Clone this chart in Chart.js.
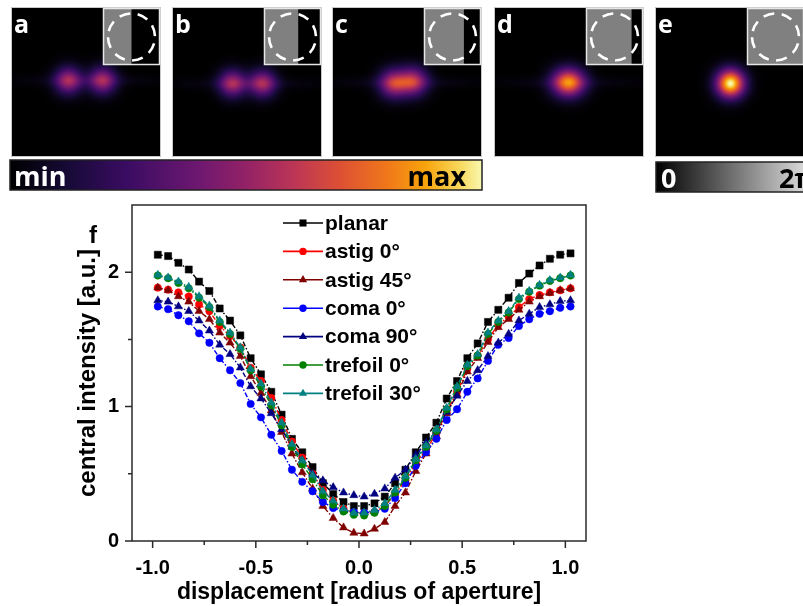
<!DOCTYPE html>
<html>
<head>
<meta charset="utf-8">
<script src="https://cdn.jsdelivr.net/npm/chart.js@4.4.1/dist/chart.umd.min.js"></script>
<style>
  html, body { margin: 0; padding: 0; background: #fff; }
  #wrap { position: relative; width: 803px; height: 606px; overflow: hidden; }
  #chart, #panels { position: absolute; left: 0; top: 0; }
</style>
</head>
<body>
<div id="wrap">
  <canvas id="chart" width="803" height="606"></canvas>
  <canvas id="panels" width="803" height="200"></canvas>
</div>
<script>
// displacement positions (radius of aperture)
const xPos = [-0.975, -0.925, -0.875, -0.825, -0.775, -0.725, -0.675, -0.625, -0.575, -0.525,
  -0.475, -0.425, -0.375, -0.325, -0.275, -0.225, -0.175, -0.125, -0.075, -0.025,
  0.025, 0.075, 0.125, 0.175, 0.225, 0.275, 0.325, 0.375, 0.425, 0.475,
  0.525, 0.575, 0.625, 0.675, 0.725, 0.775, 0.825, 0.875, 0.925, 0.975, 1.025];

const planar = [2.13, 2.12, 2.07, 2.02, 1.93, 1.86, 1.73, 1.64, 1.53, 1.36,
  1.24, 1.11, 0.94, 0.76, 0.66, 0.55, 0.43, 0.35, 0.29, 0.26,
  0.26, 0.28, 0.33, 0.43, 0.53, 0.66, 0.77, 0.88, 1.06, 1.19,
  1.36, 1.47, 1.63, 1.72, 1.81, 1.92, 1.99, 2.05, 2.10, 2.13, 2.14];
const astig0 = [1.885, 1.87, 1.85, 1.82, 1.76, 1.71, 1.60, 1.525, 1.44, 1.29,
  1.19, 1.065, 0.90, 0.74, 0.62, 0.50, 0.38, 0.30, 0.24, 0.21,
  0.20, 0.215, 0.26, 0.35, 0.45, 0.58, 0.68, 0.80, 0.96, 1.11,
  1.28, 1.38, 1.50, 1.61, 1.67, 1.74, 1.80, 1.83, 1.85, 1.865, 1.88];
const astig45 = [1.885, 1.865, 1.82, 1.78, 1.71, 1.65, 1.55, 1.475, 1.375, 1.225,
  1.10, 0.97, 0.81, 0.65, 0.51, 0.39, 0.26, 0.17, 0.10, 0.06,
  0.055, 0.09, 0.14, 0.26, 0.36, 0.52, 0.65, 0.78, 0.95, 1.09,
  1.26, 1.36, 1.48, 1.59, 1.65, 1.72, 1.78, 1.82, 1.845, 1.865, 1.88];
const coma0 = [1.745, 1.725, 1.68, 1.635, 1.545, 1.475, 1.36, 1.27, 1.175, 1.02,
  0.92, 0.79, 0.67, 0.53, 0.44, 0.37, 0.29, 0.245, 0.225, 0.215,
  0.21, 0.215, 0.24, 0.32, 0.43, 0.56, 0.66, 0.76, 0.90, 0.98,
  1.11, 1.21, 1.34, 1.46, 1.51, 1.60, 1.65, 1.69, 1.71, 1.735, 1.745];
const coma90 = [1.79, 1.78, 1.745, 1.71, 1.64, 1.565, 1.46, 1.39, 1.29, 1.15,
  1.06, 0.95, 0.83, 0.70, 0.60, 0.50, 0.45, 0.40, 0.36, 0.34,
  0.33, 0.35, 0.39, 0.47, 0.53, 0.64, 0.73, 0.82, 0.96, 1.08,
  1.19, 1.27, 1.375, 1.475, 1.54, 1.64, 1.69, 1.74, 1.76, 1.785, 1.79];
const trefoil0 = [1.975, 1.955, 1.92, 1.88, 1.81, 1.74, 1.63, 1.54, 1.43, 1.27,
  1.15, 1.01, 0.86, 0.70, 0.57, 0.46, 0.34, 0.27, 0.22, 0.195,
  0.19, 0.21, 0.26, 0.36, 0.47, 0.60, 0.70, 0.82, 0.98, 1.14,
  1.30, 1.38, 1.54, 1.63, 1.70, 1.80, 1.855, 1.90, 1.935, 1.955, 1.975];
const trefoil30 = [1.98, 1.96, 1.93, 1.89, 1.82, 1.75, 1.64, 1.55, 1.44, 1.28,
  1.17, 1.03, 0.88, 0.72, 0.60, 0.49, 0.37, 0.30, 0.24, 0.21,
  0.21, 0.23, 0.28, 0.38, 0.48, 0.61, 0.71, 0.83, 0.99, 1.15,
  1.31, 1.39, 1.55, 1.64, 1.71, 1.81, 1.86, 1.905, 1.94, 1.96, 1.98];

const seriesNames = ['planar', 'astig 0°', 'astig 45°', 'coma 0°', 'coma 90°', 'trefoil 0°', 'trefoil 30°'];
const seriesValues = [planar, astig0, astig45, coma0, coma90, trefoil0, trefoil30];
const seriesColors = ['#000000', '#ff0000', '#800000', '#0000ff', '#000080', '#008000', '#008080'];
const seriesMarkers = ['rect', 'circle', 'triangle', 'circle', 'triangle', 'circle', 'triangle'];

const xTickValues = [-1, -0.5, 0, 0.5, 1];
const xMinorTicks = [-0.75, -0.25, 0.25, 0.75];
const yTickValues = [0, 1, 2];
const yMinorTicks = [0.5, 1.5];

const markerRadius = { rect: 5, circle: 3.7, triangle: 4.7 };
const axisFont = { family: '"Liberation Sans", Arial, sans-serif', weight: 'bold', size: 20 };
const titleFont = { family: '"Liberation Sans", Arial, sans-serif', weight: 'bold', size: 23 };

function drawMarker(ctx, style, x, y, r, color) {
  ctx.fillStyle = color;
  ctx.beginPath();
  if (style === 'rect') {
    const s = r * Math.SQRT1_2;
    ctx.rect(x - s, y - s, 2 * s, 2 * s);
  } else if (style === 'circle') {
    ctx.arc(x, y, r, 0, Math.PI * 2);
  } else {
    ctx.moveTo(x, y - r);
    ctx.lineTo(x + r * 0.866, y + r * 0.5);
    ctx.lineTo(x - r * 0.866, y + r * 0.5);
    ctx.closePath();
  }
  ctx.fill();
}

// frame, minor ticks, legend and panel letter
const decorations = {
  id: 'decorations',
  afterDraw(chart) {
    const { ctx, chartArea: a, scales } = chart;
    ctx.save();
    ctx.strokeStyle = '#2a2a2a';
    ctx.lineWidth = 1.5;
    ctx.strokeRect(a.left, a.top, a.right - a.left, a.bottom - a.top);

    ctx.beginPath();
    xTickValues.forEach(v => { const px = scales.x.getPixelForValue(v); ctx.moveTo(px, a.bottom); ctx.lineTo(px, a.bottom + 7); });
    xMinorTicks.forEach(v => { const px = scales.x.getPixelForValue(v); ctx.moveTo(px, a.bottom); ctx.lineTo(px, a.bottom + 4); });
    yTickValues.forEach(v => { const py = scales.y.getPixelForValue(v); ctx.moveTo(a.left, py); ctx.lineTo(a.left - 7, py); });
    yMinorTicks.forEach(v => { const py = scales.y.getPixelForValue(v); ctx.moveTo(a.left, py); ctx.lineTo(a.left - 4, py); });
    ctx.stroke();

    // legend
    ctx.font = 'bold 21px "Liberation Sans", Arial, sans-serif';
    ctx.textBaseline = 'middle';
    seriesNames.forEach((name, i) => {
      const y = 223 + i * 28.4;
      ctx.strokeStyle = seriesColors[i];
      ctx.lineWidth = 1.6;
      ctx.beginPath();
      ctx.moveTo(283, y); ctx.lineTo(323, y);
      ctx.stroke();
      drawMarker(ctx, seriesMarkers[i], 303, y, markerRadius[seriesMarkers[i]], seriesColors[i]);
      ctx.fillStyle = '#000';
      ctx.fillText(name, 325, y + 1);
    });

    ctx.font = 'bold 24px "Liberation Sans", Arial, sans-serif';
    ctx.textBaseline = 'alphabetic';
    ctx.fillStyle = '#000';
    ctx.fillText('f', 89, 243);
    ctx.restore();
  }
};

new Chart(document.getElementById('chart'), {
  type: 'line',
  data: {
    datasets: seriesNames.map((name, i) => ({
      label: name,
      data: xPos.map((x, j) => ({ x: x, y: seriesValues[i][j] })),
      borderColor: seriesColors[i],
      backgroundColor: seriesColors[i],
      borderWidth: 1.4,
      borderDash: [5, 2, 1.5, 2],
      pointStyle: seriesMarkers[i],
      pointRadius: markerRadius[seriesMarkers[i]],
      pointBorderWidth: 0.5,
      tension: 0,
      order: seriesNames.length - i
    }))
  },
  options: {
    responsive: false,
    animation: false,
    devicePixelRatio: 1,
    layout: { padding: { left: 0, top: 205, right: 217, bottom: 0 } },
    plugins: { legend: { display: false }, tooltip: { enabled: false } },
    scales: {
      x: {
        type: 'linear',
        min: -1.1,
        max: 1.1,
        afterBuildTicks: s => { s.ticks = xTickValues.map(v => ({ value: v })); },
        afterFit: s => { s.height = 65; },
        grid: { display: true, drawOnChartArea: false, drawTicks: true, tickLength: 7, color: 'rgba(0,0,0,0)' },
        border: { display: false },
        ticks: { font: axisFont, color: '#000', padding: 8, maxRotation: 0, autoSkip: false, callback: v => v.toFixed(1) },
        title: { display: true, text: 'displacement [radius of aperture]', font: titleFont, color: '#000', padding: { top: 0, bottom: 0 } }
      },
      y: {
        min: 0,
        max: 2.5,
        afterBuildTicks: s => { s.ticks = yTickValues.map(v => ({ value: v })); },
        afterFit: s => { s.width = 132; },
        grid: { display: true, drawOnChartArea: false, drawTicks: true, tickLength: 7, color: 'rgba(0,0,0,0)' },
        border: { display: false },
        ticks: { font: axisFont, color: '#000', padding: 6, callback: v => String(v) },
        title: { display: true, text: 'central intensity [a.u.]', font: { ...titleFont, size: 24 }, color: '#000', padding: { top: 74, bottom: 0 } }
      }
    }
  },
  plugins: [decorations]
});

// ---- top image panels (a-e) and colour bars ----
const cmapStops = [[0, '#000000'], [0.12, '#160a36'], [0.25, '#3b0c63'], [0.4, '#6e1870'], [0.5, '#932266'],
  [0.6, '#bb3556'], [0.7, '#dd5034'], [0.8, '#f0781a'], [0.88, '#f8a40c'], [0.95, '#f8d658'], [1, '#f8f8b0']];
const panelLetters = ['a', 'b', 'c', 'd', 'e'];
const panelLeft = [12, 173, 333, 495, 656];
const phaseSplit = [0.5, 0.6, 0.7, 0.8, 1.0];
const panelSpots = [
  [[56, 72, 9.5, 9.5, 0.52], [90, 72, 9.5, 9.5, 0.52], [73, 72, 45, 4, 0.06]],
  [[59, 75, 9.5, 9.5, 0.52], [89, 75, 9.5, 9.5, 0.52], [74, 75, 45, 4, 0.06]],
  [[60, 75, 10, 10, 0.56], [80, 73, 10, 10, 0.56], [70, 74, 45, 4, 0.06]],
  [[73, 74, 11.5, 10, 0.82], [73, 74, 45, 4, 0.05]],
  [[74, 75, 10, 10, 1.0]]
];

function hexRgb(h) { return [1, 3, 5].map(k => parseInt(h.substr(k, 2), 16)); }
function cmap(t) {
  t = Math.max(0, Math.min(1, t));
  for (let k = 1; k < cmapStops.length; k++) {
    if (t <= cmapStops[k][0]) {
      const [t0, c0] = cmapStops[k - 1], [t1, c1] = cmapStops[k];
      const f = (t - t0) / (t1 - t0), a = hexRgb(c0), b = hexRgb(c1);
      return a.map((v, j) => Math.round(v + (b[j] - v) * f));
    }
  }
  return hexRgb(cmapStops[cmapStops.length - 1][1]);
}

const pc = document.getElementById('panels').getContext('2d');
const size = 148, top0 = 8;
panelLeft.forEach((px, p) => {
  const img = pc.createImageData(size, size);
  for (let y = 0; y < size; y++) {
    for (let x = 0; x < size; x++) {
      let I = 0;
      panelSpots[p].forEach(([bx, by, sx, sy, amp]) => {
        I += amp * Math.exp(-((x - bx) ** 2) / (2 * sx * sx) - ((y - by) ** 2) / (2 * sy * sy));
      });
      const c = cmap(I), o = (y * size + x) * 4;
      img.data[o] = c[0]; img.data[o + 1] = c[1]; img.data[o + 2] = c[2]; img.data[o + 3] = 255;
    }
  }
  pc.putImageData(img, px, top0);
  pc.strokeStyle = '#c8c8c8';
  pc.lineWidth = 1;
  pc.strokeRect(px - 0.5, top0 - 0.5, size + 1, size + 1);

  // phase inset
  const ix = px + size - 57, iy = top0, is = 57;
  pc.fillStyle = '#000';
  pc.fillRect(ix, iy, is, is);
  pc.fillStyle = '#808080';
  pc.fillRect(ix, iy, is * phaseSplit[p], is);
  pc.strokeStyle = '#e6e6e6';
  pc.lineWidth = 1.5;
  pc.strokeRect(ix + 0.5, iy + 0.5, is - 1, is - 1);
  pc.save();
  pc.strokeStyle = '#fff';
  pc.lineWidth = 2.6;
  pc.setLineDash([11, 7.5]);
  pc.beginPath();
  pc.arc(ix + is / 2, iy + is / 2 + 0.5, 23.5, -Math.PI * 0.92, Math.PI * 1.08);
  pc.stroke();
  pc.restore();

  pc.fillStyle = '#fff';
  pc.font = 'bold 25px "Open Sans", sans-serif';
  pc.textBaseline = 'alphabetic';
  pc.fillText(panelLetters[p], px + 2, top0 + 25);
});

// intensity colour bar
const g1 = pc.createLinearGradient(10, 0, 482, 0);
cmapStops.forEach(([t, c]) => g1.addColorStop(t, c));
pc.fillStyle = g1;
pc.fillRect(10, 160, 472, 30);
pc.strokeStyle = '#222';
pc.lineWidth = 1.5;
pc.strokeRect(10, 160, 472, 30);
pc.font = 'bold 27px "Open Sans", sans-serif';
pc.fillStyle = '#fff';
pc.fillText('min', 14, 186);
pc.textAlign = 'right';
pc.fillStyle = '#000';
pc.fillText('max', 466, 186);
pc.textAlign = 'left';

// phase colour bar
const g2 = pc.createLinearGradient(656, 0, 830, 0);
g2.addColorStop(0, '#000');
g2.addColorStop(1, '#fff');
pc.fillStyle = g2;
pc.fillRect(656, 162, 160, 30);
pc.strokeStyle = '#222';
pc.strokeRect(656, 162, 160, 30);
pc.fillStyle = '#fff';
pc.fillText('0', 661, 188);
pc.fillStyle = '#000';
pc.fillText('2π', 779, 188);
</script>
</body>
</html>
